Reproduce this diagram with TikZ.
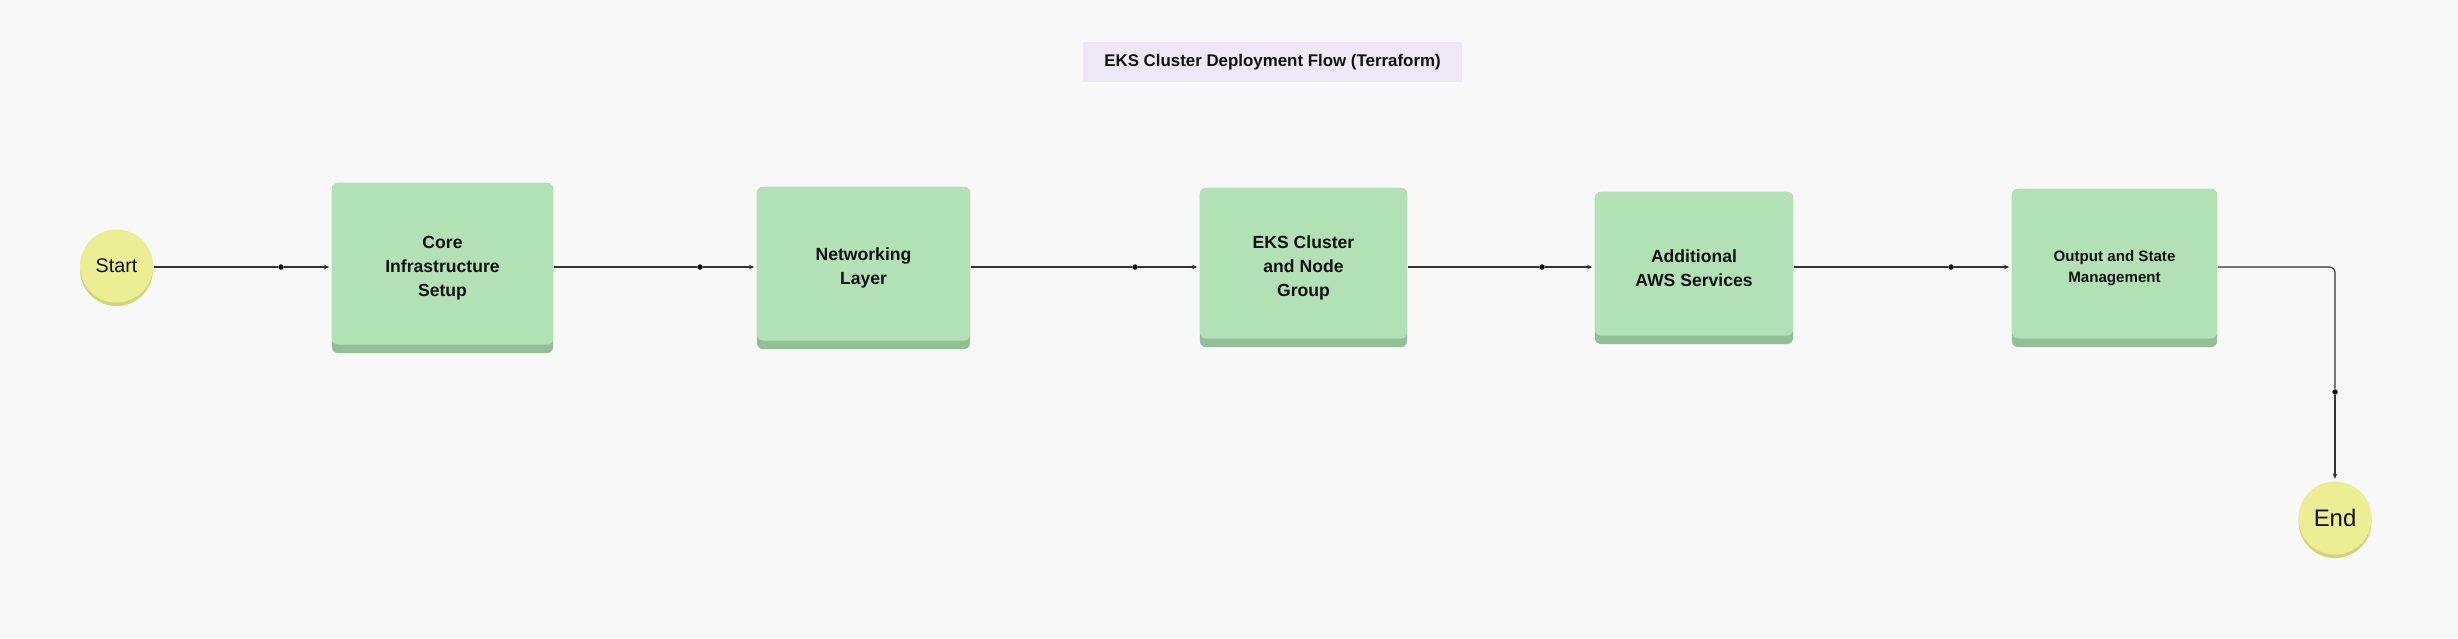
\documentclass[tikz,border=0pt]{standalone}
\usepackage{fontspec}
\setmainfont{Liberation Sans}
\usetikzlibrary{arrows.meta}
\definecolor{bgc}{HTML}{F8F8F8}
\definecolor{boxgreen}{HTML}{B2E1B6}
\definecolor{boxshadow}{HTML}{92BF95}
\definecolor{circyellow}{HTML}{ECEE94}
\definecolor{circshadow}{HTML}{D2D47A}
\definecolor{titlefill}{HTML}{EEE7F5}
\definecolor{linec}{HTML}{333333}
\definecolor{textc}{HTML}{111111}
\tikzset{
  stepbox/.style={rectangle, rounded corners=0.06cm, fill=boxshadow, draw=none,
    align=center, text=textc, inner sep=0pt,
    font=\bfseries\fontsize{5}{6.83}\selectfont,
    path picture={\fill[boxgreen, rounded corners=0.06cm]
      (path picture bounding box.north west) rectangle
      ([yshift=0.085cm]path picture bounding box.south east);}},
  termnode/.style={circle, fill=circyellow, draw=none, inner sep=0pt, text=textc,
    preaction={fill=circshadow, transform canvas={yshift=-0.035cm}}},
  dotnode/.style={circle, fill=textc, draw=none, inner sep=0pt, minimum size=0.055cm},
  conn/.style={draw=linec, line width=0.33pt},
  arrowconn/.style={conn, -{Stealth[length=1.5pt, width=1.3pt]}, shorten >=0.02cm},
}
\begin{document}
\begin{tikzpicture}[x=0.01cm, y=-0.01cm]
\fill[bgc] (0,0) rectangle (2458,638);
\useasboundingbox (0,0) rectangle (2458,638);

% title
\node[fill=titlefill, minimum width=3.79cm, minimum height=0.40cm, inner sep=0pt,
  font=\bfseries\fontsize{4.8}{6}\selectfont, text=textc] (title) at (1272.5,62) {EKS Cluster Deployment Flow (Terraform)};

% terminals
\node[termnode, minimum size=0.73cm, font=\fontsize{5.6}{6}\selectfont] (start) at (116.5,266) {Start};
\node[termnode, minimum size=0.73cm, font=\fontsize{6.8}{7}\selectfont] (end) at (2335,518) {End};

% boxes
\node[stepbox, minimum width=2.21cm, minimum height=1.70cm] (box1) at (442.5,268) {Core\\Infrastructure\\Setup};
\node[stepbox, minimum width=2.13cm, minimum height=1.62cm] (box2) at (863.5,268) {Networking\\Layer};
\node[stepbox, minimum width=2.07cm, minimum height=1.59cm] (box3) at (1303.5,267.5) {EKS Cluster\\and Node\\Group};
\node[stepbox, minimum width=1.98cm, minimum height=1.52cm] (box4) at (1694,268) {Additional\\AWS Services};
\node[stepbox, minimum width=2.05cm, minimum height=1.58cm, font=\bfseries\fontsize{4.3}{6.1}\selectfont] (box5) at (2114.5,268) {Output and State\\Management};

% dots
\node[dotnode] (d1) at (281,267) {};
\node[dotnode] (d2) at (700,267) {};
\node[dotnode] (d3) at (1135,267) {};
\node[dotnode] (d4) at (1542,267) {};
\node[dotnode] (d5) at (1951,267) {};
\node[dotnode] (d6) at (2335,392) {};

% connectors
\draw[conn] (start.east |- d1) -- (d1);
\draw[arrowconn] (d1) -- (box1.west |- d1);
\draw[conn] (box1.east |- d2) -- (d2);
\draw[arrowconn] (d2) -- (box2.west |- d2);
\draw[conn] (box2.east |- d3) -- (d3);
\draw[arrowconn] (d3) -- (box3.west |- d3);
\draw[conn] (box3.east |- d4) -- (d4);
\draw[arrowconn] (d4) -- (box4.west |- d4);
\draw[conn] (box4.east |- d5) -- (d5);
\draw[arrowconn] (d5) -- (box5.west |- d5);
\draw[conn, rounded corners=0.05cm] (box5.east |- d5) -- (d5 -| d6) -- (d6);
\draw[arrowconn] (d6) -- (end.north);
\end{tikzpicture}
\end{document}
